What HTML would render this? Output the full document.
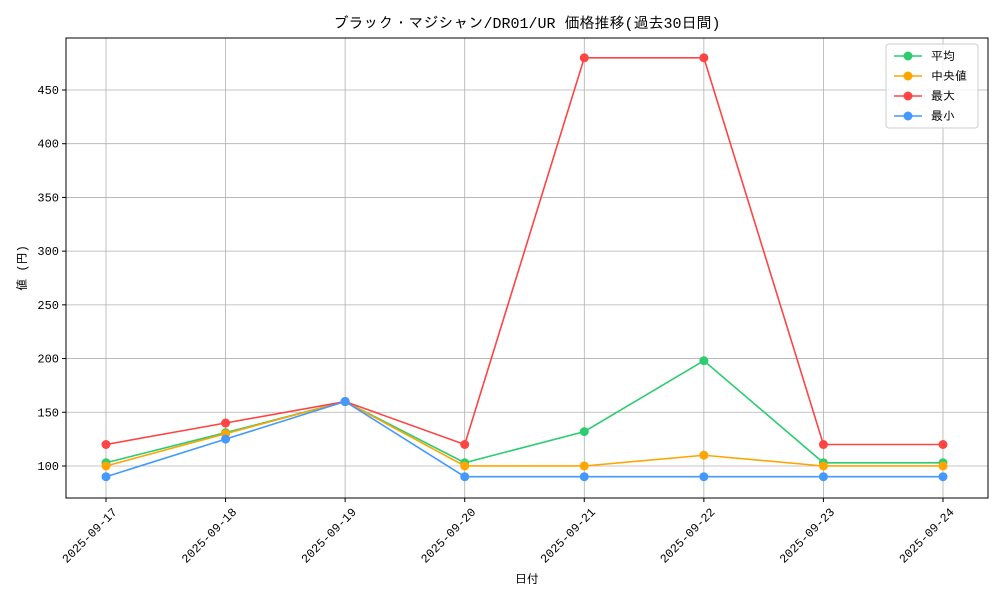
<!DOCTYPE html>
<html><head><meta charset="utf-8"><style>
body{margin:0;background:#fff;}
svg text{font-family:"Liberation Mono","IPAGothic","Noto Sans CJK JP",monospace;fill:#000;}
</style></head><body>
<svg id="chart" width="1000" height="600" xmlns="http://www.w3.org/2000/svg">
<rect width="1000" height="600" fill="#fff"/>
<text x="527" y="28" font-size="15" text-anchor="middle">ブラック・マジシャン/DR01/UR 価格推移(過去30日間)</text>
<g id="grid"></g><g id="lines"></g><g id="axes"></g>
<text x="527" y="583" font-size="12" text-anchor="middle">日付</text>
<text transform="translate(26,268) rotate(-90)" font-size="12" text-anchor="middle">値 (円)</text>
<g id="legend"></g>
</svg>
<script>
const categories=["2025-09-17","2025-09-18","2025-09-19","2025-09-20","2025-09-21","2025-09-22","2025-09-23","2025-09-24"];
const avgValues=[103,131,160,103,132,198,103,103];
const medianValues=[100,130,160,100,100,110,100,100];
const maxValues=[120,140,160,120,480,480,120,120];
const minValues=[90,125,160,90,90,90,90,90];
const yTicks=[100,150,200,250,300,350,400,450];
const seriesNames=["平均","中央値","最大","最小"];
const L=66,R=988,T=38,B=498,yMin=70.2,yMax=498.4;
const NS="http://www.w3.org/2000/svg";
const xs=i=>106+i*(943-106)/(categories.length-1);
const ys=v=>B-(v-yMin)/(yMax-yMin)*(B-T);
function mk(tag,a,p){const e=document.createElementNS(NS,tag);for(const k in a)e.setAttribute(k,a[k]);p.appendChild(e);return e;}
const grid=document.getElementById('grid'),axes=document.getElementById('axes'),lines=document.getElementById('lines');
categories.forEach((c,i)=>{
 const g=mk('line',{x1:xs(i),x2:xs(i),y1:T,y2:B,stroke:'#b0b0b0','stroke-width':0.8},grid);
 
 
 mk('line',{x1:xs(i),x2:xs(i),y1:B,y2:B+4,stroke:'#000'},axes);
 const t=mk('text',{transform:`translate(${xs(i)+6},${B+9}) rotate(-45)`,'font-size':12,'text-anchor':'end','dominant-baseline':'hanging'},axes);
 t.textContent=c;
 
 
});
yTicks.forEach(v=>{
 const g=mk('line',{x1:L,x2:R,y1:ys(v),y2:ys(v),stroke:'#b0b0b0','stroke-width':0.8},grid);
 
 
 mk('line',{x1:L-4,x2:L,y1:ys(v),y2:ys(v),stroke:'#000'},axes);
 const t=mk('text',{x:L-7,y:ys(v)+4,'font-size':12,'text-anchor':'end'},axes);
 t.textContent=v;
 
 
});
const fr=mk('rect',{x:L,y:T,width:R-L,height:B-T,fill:'none',stroke:'#000','stroke-width':1},axes);


const series=[[avgValues,'#2ecc71','avg'],[medianValues,'#ffa500','median'],[maxValues,'#ff4444','max'],[minValues,'#4499ff','min']];
series.forEach(([vals,col,nm])=>{
 const p=mk('polyline',{points:vals.map((v,i)=>xs(i)+','+ys(v)).join(' '),fill:'none',stroke:col,'stroke-width':1.6},lines);
 
 
 vals.forEach((v,i)=>{
  const c=mk('circle',{cx:xs(i),cy:ys(v),r:4.5,fill:col},lines);
  
  
 });
});
const lg=document.getElementById('legend');
mk('rect',{x:886,y:44,width:92,height:84,fill:'#fff','fill-opacity':0.8,stroke:'#ccc',rx:3},lg);
series.forEach(([v,col,nm],k)=>{
 const y=56+k*20;
 const l=mk('line',{x1:894,x2:922,y1:y,y2:y,stroke:col,'stroke-width':1.6},lg);
 
 
 mk('circle',{cx:908,cy:y,r:4.5,fill:col},lg);
 const t=mk('text',{x:931,y:y+4,'font-size':12},lg);
 t.textContent=seriesNames[k];
 
 
});
</script>
</body></html>
